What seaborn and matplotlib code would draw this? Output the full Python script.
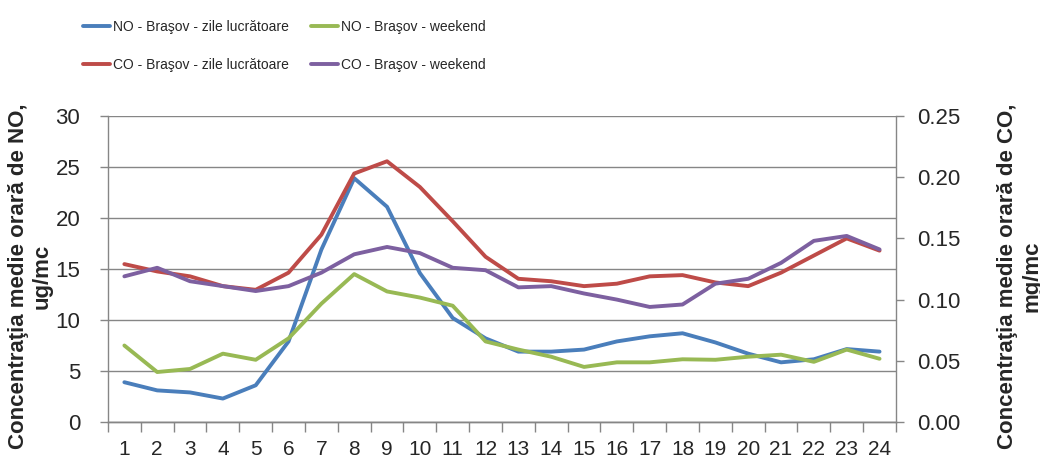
import numpy as np
import pandas as pd
import matplotlib
matplotlib.use("Agg")
import matplotlib.pyplot as plt
import seaborn as sns
from matplotlib.ticker import FixedLocator, NullFormatter, FormatStrFormatter

# date
ore = list(range(1, 25))
no_lucratoare = [3.9, 3.1, 2.9, 2.3, 3.6, 7.9, 16.9, 23.9, 21.1, 14.6, 10.2, 8.2,
                 6.9, 6.9, 7.1, 7.9, 8.4, 8.7, 7.8, 6.7, 5.85, 6.15, 7.15, 6.9]
no_weekend = [7.5, 4.9, 5.2, 6.7, 6.1, 8.2, 11.6, 14.5, 12.8, 12.2, 11.4, 7.9,
              7.1, 6.4, 5.4, 5.85, 5.85, 6.15, 6.1, 6.4, 6.6, 5.9, 7.1, 6.2]
co_lucratoare = [0.129, 0.123, 0.119, 0.111, 0.108, 0.122, 0.153, 0.203, 0.213, 0.192, 0.164, 0.135,
                 0.117, 0.115, 0.111, 0.113, 0.119, 0.120, 0.114, 0.111, 0.122, 0.136, 0.150, 0.140]
co_weekend = [0.119, 0.126, 0.115, 0.111, 0.107, 0.111, 0.122, 0.137, 0.143, 0.138, 0.126, 0.124,
              0.110, 0.111, 0.105, 0.100, 0.094, 0.096, 0.113, 0.117, 0.130, 0.148, 0.152, 0.141]

etichete = ["NO - Braşov - zile lucrătoare", "NO - Braşov - weekend",
            "CO - Braşov - zile lucrătoare", "CO - Braşov - weekend"]
culori = ["#4A7EBB", "#98B954", "#BE4B48", "#7D60A0"]

sns.set_theme(style="ticks")
plt.rcParams['font.family'] = ['Liberation Sans', 'DejaVu Sans']

gri = "#868686"

fig = plt.figure(figsize=(10.4, 4.66), dpi=100)
ax = fig.add_axes([0.1038, 0.0944, 0.7577, 0.6567])
ax2 = ax.twinx()

df_no = pd.DataFrame({"ora": ore, "lucr": no_lucratoare, "wkd": no_weekend})
df_co = pd.DataFrame({"ora": ore, "lucr": co_lucratoare, "wkd": co_weekend})

lw = 2.8
sns.lineplot(data=df_no, x="ora", y="lucr", ax=ax, color=culori[0], lw=lw, legend=False)
sns.lineplot(data=df_no, x="ora", y="wkd", ax=ax, color=culori[1], lw=lw, legend=False)
sns.lineplot(data=df_co, x="ora", y="lucr", ax=ax2, color=culori[2], lw=lw, legend=False)
sns.lineplot(data=df_co, x="ora", y="wkd", ax=ax2, color=culori[3], lw=lw, legend=False)
for l in ax.get_lines() + ax2.get_lines():
    l.set_solid_joinstyle('round')

# axa stanga
ax.set_xlim(0.5, 24.5)
ax.set_ylim(0, 30)
ax.set_yticks(np.arange(0, 31, 5))
ax.yaxis.grid(True, color=gri, lw=1)
ax.set_axisbelow(True)
ax.xaxis.set_major_locator(FixedLocator(np.arange(0.5, 25, 1)))
ax.xaxis.set_major_formatter(NullFormatter())
ax.set_xticks(ore, minor=True)
ax.set_xticklabels([str(h) for h in ore], minor=True)
ax.tick_params(axis='x', which='major', length=7, width=1, color=gri)
ax.tick_params(axis='x', which='minor', length=0, pad=13, labelsize=15)
ax.tick_params(axis='y', length=6, width=1, color=gri, pad=14, labelsize=16)
ax.set_xlabel("")
ax.set_ylabel("Concentraţia medie orară de NO,\nug/mc", fontsize=16, fontweight='bold')
ax.yaxis.set_label_coords(-0.07, 0.475)

# axa dreapta
ax2.set_ylim(0, 0.25)
ax2.set_yticks(np.arange(0, 0.26, 0.05))
ax2.yaxis.set_major_formatter(FormatStrFormatter("%.2f"))
ax2.tick_params(axis='y', length=6, width=1, color=gri, pad=9, labelsize=16)
ax2.set_ylabel("Concentraţia medie orară de CO,\nmg/mc", fontsize=16, fontweight='bold')
ax2.yaxis.set_label_coords(1.128, 0.475)
ax2.grid(False)

for a in (ax, ax2):
    a.spines['top'].set_visible(False)
    for s in ('left', 'right', 'bottom'):
        a.spines[s].set_color(gri)
        a.spines[s].set_linewidth(1)
ax.spines['right'].set_visible(False)
ax2.spines['left'].set_visible(False)

handles = [ax.get_lines()[0], ax2.get_lines()[0], ax.get_lines()[1], ax2.get_lines()[1]]
labels = [etichete[0], etichete[2], etichete[1], etichete[3]]
fig.legend(handles, labels, loc='upper left', bbox_to_anchor=(0.0798, 0.957), ncol=2,
           frameon=False, prop={'size': 10},
           handlelength=1.95, handletextpad=0.2, columnspacing=1.6, labelspacing=1.72,
           borderpad=0, borderaxespad=0)

fig.savefig("out.png", dpi=100)
